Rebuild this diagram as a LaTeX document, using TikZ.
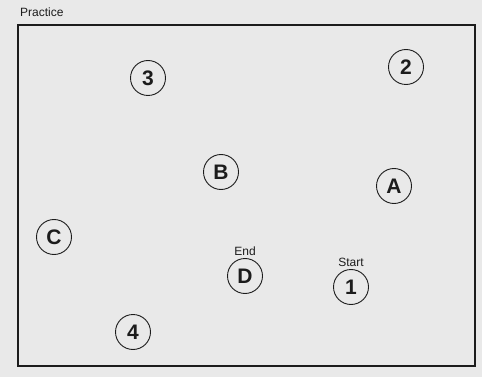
\documentclass[tikz,border=0pt]{standalone}
\usepackage{fontspec}
\setmainfont{Liberation Sans}
\usepackage{tikz}
\usetikzlibrary{positioning}
\usepackage{xcolor}
\definecolor{trailpaper}{HTML}{E9E9E9}
\definecolor{trailink}{HTML}{1C1C1C}

\begin{document}
\begin{tikzpicture}[
  x=1pt, y=-1pt,
  node distance=1pt,
  dot/.style={draw=trailink, circle, line width=0.9pt, minimum size=35pt, inner sep=0pt, text=trailink, font=\fontsize{21}{21}\selectfont\bfseries},
  tag/.style={text=trailink, font=\fontsize{12}{12}\selectfont, inner sep=1pt},
  frame/.style={draw=trailink, line width=1.6pt}
]
\fill[trailpaper] (0,0) rectangle (482,377);
\useasboundingbox (0,0) rectangle (482,377);
\node[tag, anchor=base west] (title) at (19,17) {Practice};
\draw[frame] (18,25) rectangle (475,366);

\node[dot] (n3) at (148,78) {3};
\node[dot] (n2) at (406,67) {2};
\node[dot] (lb) at (221,172) {B};
\node[dot] (la) at (394,186) {A};
\node[dot] (lc) at (54,237) {C};
\node[dot] (ld) at (245,276) {D};
\node[dot] (n1) at (351,287) {1};
\node[dot] (n4) at (133,332) {4};
\node[tag, above=of ld] (endtag) {End};
\node[tag, above=of n1] (starttag) {Start};
\end{tikzpicture}
\end{document}
